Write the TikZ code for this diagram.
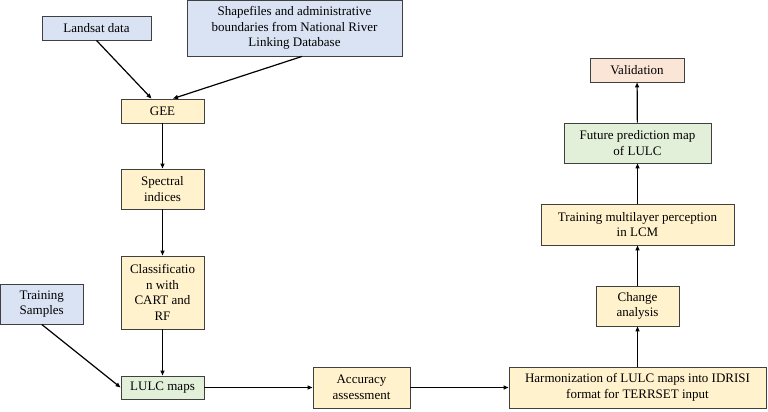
\documentclass[tikz,border=0pt]{standalone}
\usepackage{fontspec}
\setmainfont{Liberation Serif}
\usetikzlibrary{arrows.meta,calc}
\begin{document}
\begin{tikzpicture}[x=1pt,y=-1pt,
  box/.style={draw=black!75,line width=0.9pt,inner sep=0pt,align=center,
    font=\fontsize{13}{15.5}\selectfont},
  arr/.style={-{Triangle[length=5pt,width=4pt]},line width=1.2pt}]
\useasboundingbox (0,0) rectangle (768,412);
\definecolor{cblue}{HTML}{DAE3F3}
\definecolor{cyel}{HTML}{FFF2CC}
\definecolor{cgrn}{HTML}{E2F0D9}
\definecolor{cpink}{HTML}{FBE5D6}
\tikzset{bluebox/.style={box,fill=cblue},yelbox/.style={box,fill=cyel},
  grnbox/.style={box,fill=cgrn},pinkbox/.style={box,fill=cpink}}
\node[bluebox,minimum width=109,minimum height=24] (land) at (96.5,28) {Landsat data};
\node[bluebox,minimum width=215,minimum height=55.5] (shp) at (294.5,28.25) {Shapefiles and administrative\\boundaries from National River\\Linking Database};
\node[yelbox,minimum width=83,minimum height=24] (gee) at (162.5,111) {GEE};
\node[yelbox,minimum width=83,minimum height=40] (spec) at (162.5,189) {Spectral\\indices};
\node[yelbox,minimum width=83,minimum height=73] (cls) at (162.5,292.5) {Classificatio\\n with\\CART and\\RF};
\node[bluebox,minimum width=82.5,minimum height=40] (trs) at (41.75,304) {Training\\Samples};
\node[grnbox,minimum width=83,minimum height=23] (lulc) at (162.5,387.5) {LULC maps};
\node[yelbox,minimum width=97,minimum height=41] (acc) at (361.5,387.5) {Accuracy\\assessment};
\node[yelbox,minimum width=257,minimum height=41] (harm) at (637.5,387.5) {Harmonization of LULC maps into IDRISI\\format for TERRSET input};
\node[yelbox,minimum width=83,minimum height=40] (chg) at (637.5,306) {Change\\analysis};
\node[yelbox,minimum width=193,minimum height=41] (mlp) at (637.5,224.5) {Training multilayer perception\\in LCM};
\node[grnbox,minimum width=147,minimum height=40] (fut) at (637.5,143) {Future prediction map\\of LULC};
\node[pinkbox,minimum width=94,minimum height=24] (val) at (637,70) {Validation};
\draw[arr] (land.south) -- ($(gee.north)+(-11,0)$);
\draw[arr] ($(shp.south)+(7.5,0)$) -- ($(gee.north)+(10.5,0)$);
\draw[arr] (gee) -- (spec);
\draw[arr] (spec) -- (cls);
\draw[arr] (cls) -- (lulc);
\draw[arr] (trs.south) -- (lulc.west);
\draw[arr] (lulc) -- (acc);
\draw[arr] (acc) -- (harm);
\draw[arr] (harm) -- (chg);
\draw[arr] (chg) -- (mlp);
\draw[arr] (mlp) -- (fut);
\draw[arr] (fut) -- (val);
\end{tikzpicture}
\end{document}
